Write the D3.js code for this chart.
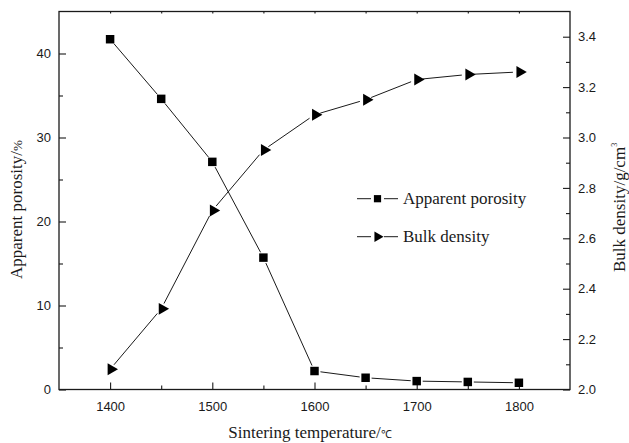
<!DOCTYPE html>
<html>
<head>
<meta charset="utf-8">
<script src="https://cdn.jsdelivr.net/npm/d3@7"></script>
<style>
  html, body { margin: 0; padding: 0; background: #fff; }
  svg { display: block; }
</style>
</head>
<body>
<svg id="chart" width="629" height="443"></svg>
<script>
// ---- data ----
const temperatures = [1400, 1450, 1500, 1550, 1600, 1650, 1700, 1750, 1800];
const apparentPorosity = [41.7, 34.6, 27.1, 15.7, 2.2, 1.4, 1.0, 0.9, 0.8];
const bulkDensity = [2.08, 2.32, 2.71, 2.95, 3.09, 3.15, 3.23, 3.25, 3.26];
const xMajorTicks = [1400, 1500, 1600, 1700, 1800];
const xMinorTicks = [1450, 1550, 1650, 1750];
const yLeftMajorTicks = [0, 10, 20, 30, 40];
const yLeftMinorTicks = [5, 15, 25, 35];
const yRightMajorTicks = [2.0, 2.2, 2.4, 2.6, 2.8, 3.0, 3.2, 3.4];
const yRightMinorTicks = [2.1, 2.3, 2.5, 2.7, 2.9, 3.1, 3.3];
const seriesNames = ["Apparent porosity", "Bulk density"];

// ---- layout ----
const L = 59, R = 570, T = 11.5, B = 389.5;
const svg = d3.select("#chart");
const x = d3.scaleLinear().domain([1350, 1850]).range([L, R]);
const yL = d3.scaleLinear().domain([0, 45]).range([B, T]);
const yR = d3.scaleLinear().domain([2.0, 3.5]).range([B, T]);

const ink = "#1a1a1a";
const tickFont = "'Liberation Sans', Arial, sans-serif";
const serif = "'Liberation Serif', 'Times New Roman', serif";

function styleAxis(g) {
  g.select(".domain").remove();
  g.selectAll(".tick line").attr("stroke", ink).attr("stroke-width", 1.1);
  g.selectAll(".tick text").attr("fill", ink).attr("font-family", tickFont).attr("font-size", 13);
}

// bottom axis
svg.append("g").attr("transform", `translate(0,${B})`)
  .call(d3.axisBottom(x).tickValues(xMajorTicks).tickSize(-7).tickPadding(12).tickFormat(d3.format("d")))
  .call(styleAxis);
svg.append("g").attr("transform", `translate(0,${B})`)
  .call(d3.axisBottom(x).tickValues(xMinorTicks).tickSize(-4).tickFormat(""))
  .call(styleAxis);
// top tiny ticks
svg.append("g").attr("transform", `translate(0,${T})`)
  .call(d3.axisTop(x).tickValues(xMajorTicks.concat(xMinorTicks)).tickSize(-2).tickFormat(""))
  .call(styleAxis);

// left axis
svg.append("g").attr("transform", `translate(${L},0)`)
  .call(d3.axisLeft(yL).tickValues(yLeftMajorTicks).tickSize(-7).tickPadding(8).tickFormat(d3.format("d")))
  .call(styleAxis);
svg.append("g").attr("transform", `translate(${L},0)`)
  .call(d3.axisLeft(yL).tickValues(yLeftMinorTicks).tickSize(-4).tickFormat(""))
  .call(styleAxis);

// right axis
svg.append("g").attr("transform", `translate(${R},0)`)
  .call(d3.axisRight(yR).tickValues(yRightMajorTicks).tickSize(-7).tickPadding(8).tickFormat(d3.format(".1f")))
  .call(styleAxis);
svg.append("g").attr("transform", `translate(${R},0)`)
  .call(d3.axisRight(yR).tickValues(yRightMinorTicks).tickSize(-4).tickFormat(""))
  .call(styleAxis);

// frame
svg.append("rect").attr("x", L).attr("y", T).attr("width", R - L).attr("height", B - T)
  .attr("fill", "none").attr("stroke", ink).attr("stroke-width", 1.3);

// series
const porData = temperatures.map((t, i) => ({ t, v: apparentPorosity[i] }));
const denData = temperatures.map((t, i) => ({ t, v: bulkDensity[i] }));

// connecting segments with small gaps around markers (Origin style)
function gapSegments(data, ys, gap) {
  const pts = data.map(d => [x(d.t), ys(d.v)]);
  const segs = [];
  for (let i = 0; i < pts.length - 1; i++) {
    const [x1, y1] = pts[i], [x2, y2] = pts[i + 1];
    const len = Math.hypot(x2 - x1, y2 - y1);
    const ux = (x2 - x1) / len, uy = (y2 - y1) / len;
    segs.push([x1 + ux * gap, y1 + uy * gap, x2 - ux * gap, y2 - uy * gap]);
  }
  return segs;
}
[[porData, yL], [denData, yR]].forEach(([data, ys]) => {
  svg.append("g").selectAll("line").data(gapSegments(data, ys, 6)).join("line")
    .attr("x1", s => s[0]).attr("y1", s => s[1]).attr("x2", s => s[2]).attr("y2", s => s[3])
    .attr("stroke", ink).attr("stroke-width", 1);
});

const sq = d3.symbol().type(d3.symbolSquare).size(72);
const tri = d3.symbol().type(d3.symbolTriangle).size(62);

svg.append("g").selectAll("path").data(porData).join("path")
  .attr("d", sq).attr("fill", "#000")
  .attr("transform", d => `translate(${x(d.t)},${yL(d.v)})`);
svg.append("g").selectAll("path").data(denData).join("path")
  .attr("d", tri).attr("fill", "#000")
  .attr("transform", d => `translate(${x(d.t) + 1},${yR(d.v)}) rotate(90)`);

// legend
const legend = svg.append("g");
const legSq = d3.symbol().type(d3.symbolSquare).size(52);
const legTri = d3.symbol().type(d3.symbolTriangle).size(48);
const legRows = [
  { y: 198.7, sym: legSq, rot: 0, name: seriesNames[0] },
  { y: 236.7, sym: legTri, rot: 90, name: seriesNames[1] }
];
legRows.forEach(r => {
  legend.append("line").attr("x1", 357).attr("x2", 371).attr("y1", r.y).attr("y2", r.y)
    .attr("stroke", ink).attr("stroke-width", 1);
  legend.append("line").attr("x1", 384).attr("x2", 398).attr("y1", r.y).attr("y2", r.y)
    .attr("stroke", ink).attr("stroke-width", 1);
  legend.append("path").attr("d", r.sym).attr("fill", "#000")
    .attr("transform", `translate(377.5,${r.y}) rotate(${r.rot})`);
  legend.append("text").attr("x", 403).attr("y", r.y + 5.5)
    .attr("font-family", serif).attr("font-size", 17).attr("fill", ink).text(r.name);
});

// axis titles
const xt = svg.append("text").attr("x", 310).attr("y", 438).attr("text-anchor", "middle")
  .attr("font-family", serif).attr("font-size", 17).attr("fill", ink);
xt.append("tspan").text("Sintering temperature/");
xt.append("tspan").attr("font-size", 11).attr("font-family", tickFont).text("℃");

const yt = svg.append("text").attr("transform", "translate(22,279) rotate(-90)")
  .attr("font-family", serif).attr("font-size", 17).attr("fill", ink);
yt.append("tspan").text("Apparent porosity/");
yt.append("tspan").attr("font-size", 13).text("%");

const yt2 = svg.append("text").attr("transform", "translate(625,272) rotate(-90)")
  .attr("font-family", serif).attr("font-size", 17).attr("fill", ink);
yt2.append("tspan").text("Bulk density/g/cm");
yt2.append("tspan").attr("font-size", 8).attr("dy", -8).text("3");
</script>
</body>
</html>
